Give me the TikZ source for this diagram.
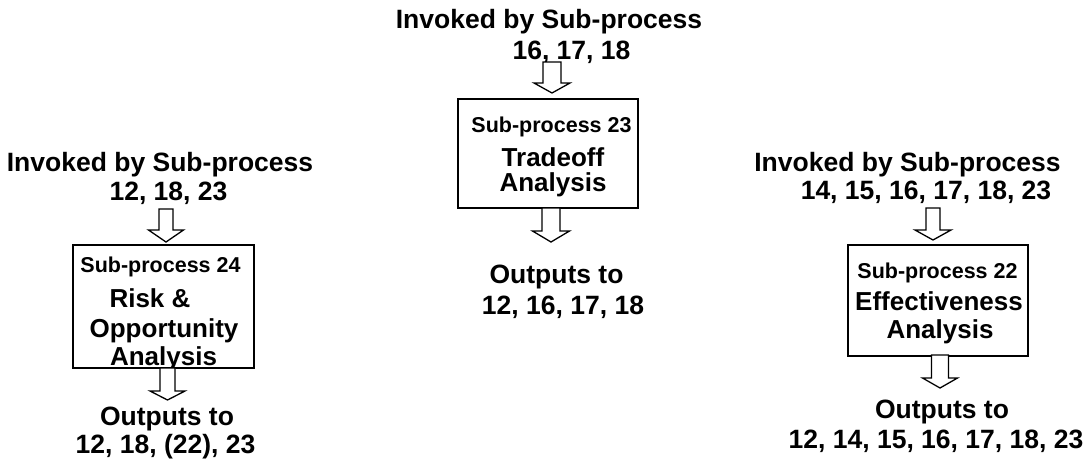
\documentclass[tikz,border=0pt]{standalone}
\usepackage{fontspec}
\setmainfont{Liberation Sans}
\tikzset{
  big/.style={anchor=base, inner sep=0pt, font=\bfseries\fontsize{26.5}{31}\selectfont},
  mid/.style={anchor=base, inner sep=0pt, font=\bfseries\fontsize{26}{30}\selectfont},
  small/.style={anchor=base, inner sep=0pt, font=\bfseries\fontsize{21.5}{25}\selectfont},
  procbox/.style={draw=black, line width=1.5pt, rectangle, inner sep=0pt, outer sep=0pt},
  arrowline/.style={draw=black, line width=1.3pt, fill=white, line join=miter}
}
% #1 start coordinate (top centre of the shaft), #2 base of head, #3 tip, #4 shaft half width, #5 head half width
\newcommand{\hollowdown}[5]{%
  \begin{scope}[shift={(#1)}]
    \draw[arrowline] (-#4,0) -- (-#4,#2) -- (-#5,#2) -- (0,#3) -- (#5,#2) -- (#4,#2) -- (#4,0) -- cycle;
  \end{scope}}
\begin{document}
\begin{tikzpicture}[x=1pt,y=-1pt]
\useasboundingbox (0,0) rectangle (1088,461);

% ---------- centre group ----------
\node[big] (cT1) at (549,28) {Invoked by Sub-process};
\node[big] (cT2) at (571.5,59) {16, 17, 18};
\node[procbox, minimum width=180pt, minimum height=109pt] (boxC) at (548,153.5) {};
\node[small] (cS) at (551.5,132) {Sub-process 23};
\node[mid] (cN1) at (553,166) {Tradeoff};
\node[mid] (cN2) at (553,191) {Analysis};
\node[big] (cO1) at (556.5,283) {Outputs to};
\node[big] (cO2) at (563,314) {12, 16, 17, 18};
\coordinate (cA1) at (552,62);
\coordinate (cA2) at (551,208);
\hollowdown{cA1}{21}{31}{9}{18}
\hollowdown{cA2}{23}{34}{9}{18.5}

% ---------- left group ----------
\node[big] (lT1) at (160,171) {Invoked by Sub-process};
\node[big] (lT2) at (168.5,200) {12, 18, 23};
\node[procbox, minimum width=181pt, minimum height=123pt] (boxL) at (163.5,306.5) {};
\node[small] (lS) at (160.5,272) {Sub-process 24};
\node[mid] (lN1) at (150,307) {Risk \&};
\node[mid] (lN2) at (164,337) {Opportunity};
\node[mid] (lN3) at (163.5,365) {Analysis};
\node[big] (lO1) at (167,425) {Outputs to};
\node[big] (lO2) at (165.5,453) {12, 18, (22), 23};
\coordinate (lA1) at (166,209);
\coordinate (lA2) at (167.5,368);
\hollowdown{lA1}{21}{33}{7}{17.5}
\hollowdown{lA2}{23}{32}{7.5}{17.5}

% ---------- right group ----------
\node[big] (rT1) at (907.5,171) {Invoked by Sub-process};
\node[big] (rT2) at (926,199) {14, 15, 16, 17, 18, 23};
\node[procbox, minimum width=180pt, minimum height=111pt] (boxR) at (938,300.5) {};
\node[small] (rS) at (937.5,278) {Sub-process 22};
\node[mid] (rN1) at (939,310) {Effectiveness};
\node[mid] (rN2) at (940,338) {Analysis};
\node[big] (rO1) at (942,418) {Outputs to};
\node[big] (rO2) at (936,448) {12, 14, 15, 16, 17, 18, 23};
\coordinate (rA1) at (933,208);
\coordinate (rA2) at (940,355);
\hollowdown{rA1}{22}{32}{7}{18}
\hollowdown{rA2}{23}{33}{8.5}{17.5}
\end{tikzpicture}
\end{document}
